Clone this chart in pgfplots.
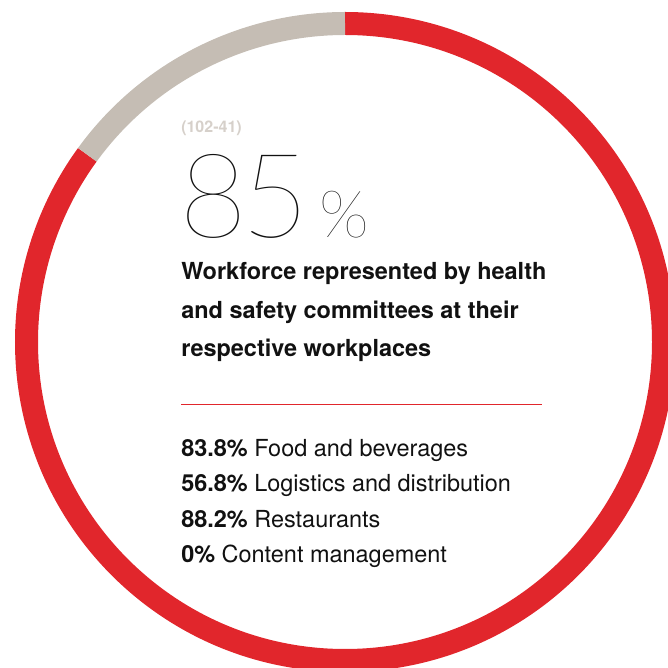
\documentclass[border=0pt]{standalone}
\usepackage{fontspec}
\setmainfont{TeX Gyre Heros}
\newfontfamily\thinfont{Lato Thin}
\usepackage{pgfplots}
\pgfplotsset{compat=1.18}
\usepackage{pgfplotstable}
\definecolor{ringred}{HTML}{E1262C}
\definecolor{ringgrey}{HTML}{C5BDB4}
\definecolor{codegrey}{HTML}{D6D0CA}
\definecolor{txt}{HTML}{111111}
\pgfplotstableread{
label value
Represented 85
Other 15
}\sharetable
\begin{document}
\begin{tikzpicture}
\begin{axis}[at={(0,0)},anchor=south west, x=0.75pt, y=0.75pt,
  xmin=0,xmax=668,ymin=0,ymax=668, hide axis, scale only axis, clip=true]
\pgfplotstablegetelem{0}{value}\of\sharetable
\pgfmathsetmacro{\redend}{90-3.6*\pgfplotsretval}
\draw[ringred, line width=17.25pt] (axis cs:345,326) ++(90:238.875pt)
  arc[start angle=90, end angle=\redend, radius=238.875pt];
\draw[ringgrey, line width=17.25pt] (axis cs:345,326) ++(\redend:238.875pt)
  arc[start angle=\redend, end angle=-270, radius=238.875pt];
% texts
\node[anchor=base west, inner sep=0, text=codegrey, font=\fontsize{12}{14}\selectfont\bfseries] at (axis cs:181,535) {(102-41)};
\node[anchor=base west, inner sep=0, text=txt, font=\fontsize{88}{90}\thinfont] at (axis cs:179,430) {8\kern-4.5pt 5};
\node[anchor=base west, inner sep=0, text=txt, font=\fontsize{49}{51}\thinfont] at (axis cs:319,430) {\%};
\node[anchor=base west, inner sep=0, text=txt, font=\fontsize{17.6}{20}\selectfont\bfseries] at (axis cs:181,388) {Workforce represented by health};
\node[anchor=base west, inner sep=0, text=txt, font=\fontsize{17.6}{20}\selectfont\bfseries] at (axis cs:181,349.5) {and safety committees at their};
\node[anchor=base west, inner sep=0, text=txt, font=\fontsize{17.6}{20}\selectfont\bfseries] at (axis cs:181,311) {respective workplaces};
\draw[ringred, line width=0.75pt] (axis cs:181,263) -- (axis cs:542,263);
\node[anchor=base west, inner sep=0, text=txt, font=\fontsize{17.6}{20}\selectfont] at (axis cs:181,211.3) {\textbf{83.8\%} Food and beverages};
\node[anchor=base west, inner sep=0, text=txt, font=\fontsize{17.6}{20}\selectfont] at (axis cs:181,176) {\textbf{56.8\%} Logistics and distribution};
\node[anchor=base west, inner sep=0, text=txt, font=\fontsize{17.6}{20}\selectfont] at (axis cs:181,140.3) {\textbf{88.2\%} Restaurants};
\node[anchor=base west, inner sep=0, text=txt, font=\fontsize{17.6}{20}\selectfont] at (axis cs:181,105.3) {\textbf{0\%} Content management};
\end{axis}
\pgfresetboundingbox
\useasboundingbox (0,0) rectangle (501pt,501pt);
\end{tikzpicture}
\end{document}
